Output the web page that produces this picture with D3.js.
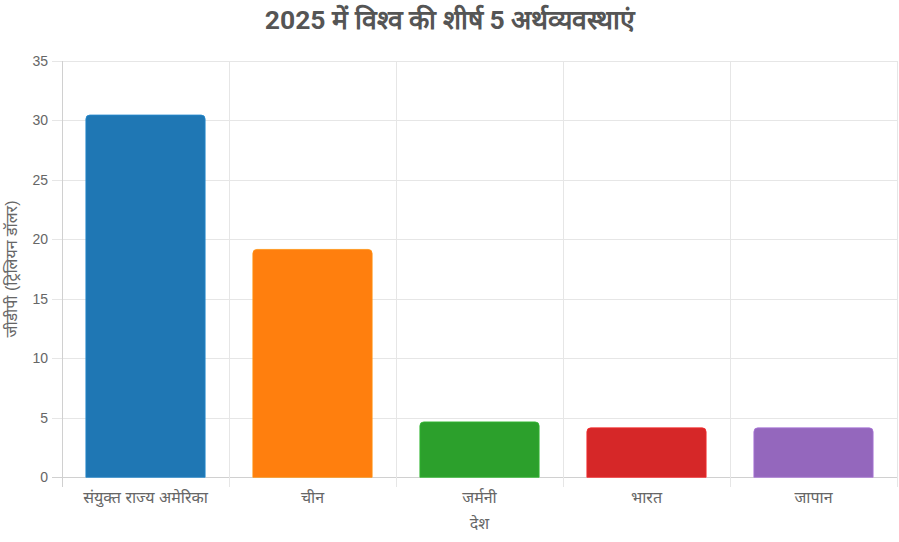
<!DOCTYPE html>
<html><head><meta charset="utf-8">
<script src="https://cdn.jsdelivr.net/npm/d3@7"></script>
<style>
body{margin:0;background:#fff;}
svg{display:block;font-family:"Liberation Sans",Arial,"Noto Sans",sans-serif;}
</style></head>
<body><svg id="c" width="899" height="542"></svg>
<script>
const categories = ["संयुक्त राज्य अमेरिका","चीन","जर्मनी","भारत","जापान"];
const gdpValues = [30.5, 19.2, 4.7, 4.2, 4.2];
const barColors = ["#1f77b4","#ff7f0e","#2ca02c","#d62728","#9467bd"];
const yTicks = [0,5,10,15,20,25,30,35];
const titleText = "2025 में विश्व की शीर्ष 5 अर्थव्यवस्थाएं";
const xTitle = "देश";
const yTitle = "जीडीपी (ट्रिलियन डॉलर)";

const svg = d3.select("#c");
const m = {l:62, r:2, t:61, b:65};
const W = 899, H = 542;
const x = d3.scaleBand().domain(categories).range([m.l, W - m.r]).paddingInner(0).paddingOuter(0);
const y = d3.scaleLinear().domain([0,35]).range([477.3, 61]);

// grid
const g = svg.append("g");
g.selectAll("line.h").data(yTicks).join("line")
  .attr("x1", m.l - 10).attr("x2", W - m.r)
  .attr("y1", d => Math.round(y(d)) + 0.5).attr("y2", d => Math.round(y(d)) + 0.5)
  .attr("stroke", d => d === 0 ? "#d0d0d0" : "#e6e6e6").attr("stroke-width", 1);
const vx = categories.map(c => x(c)).concat([W - m.r]);
g.selectAll("line.v").data(vx).join("line")
  .attr("x1", d => Math.round(d) + 0.5).attr("x2", d => Math.round(d) + 0.5)
  .attr("y1", 61).attr("y2", 487)
  .attr("stroke", (d,i) => i === 0 ? "#d0d0d0" : "#e6e6e6").attr("stroke-width", 1);

// y tick labels
svg.append("g").selectAll("text").data(yTicks).join("text")
  .attr("x", 48).attr("y", d => y(d)).attr("dy", "0.35em")
  .attr("text-anchor", "end").attr("fill", "#666").attr("font-size", 14)
  .text(d => d);

// bars
const bw = x.bandwidth() * 0.72;
const r = 4;
function barPath(x0, y0, w, h){
  const rr = Math.min(r, h/2, w/2);
  return `M${x0},${y0+h}V${y0+rr}Q${x0},${y0} ${x0+rr},${y0}H${x0+w-rr}Q${x0+w},${y0} ${x0+w},${y0+rr}V${y0+h}Z`;
}
svg.append("g").selectAll("path").data(categories).join("path")
  .attr("d", (c,i) => {
    const x0 = x(c) + (x.bandwidth() - bw)/2;
    const y0 = y(gdpValues[i]);
    return barPath(x0 + 0.5, y0 + 0.5, bw - 1, y(0) - y0 - 0.5);
  })
  .attr("fill", (c,i) => barColors[i])
  .attr("stroke", (c,i) => d3.color(barColors[i]).brighter(0.4))
  .attr("stroke-opacity", 0.8)
  .attr("stroke-width", 1);

// x labels
svg.append("g").selectAll("text").data(categories).join("text")
  .attr("x", c => x(c) + x.bandwidth()/2).attr("y", 503)
  .attr("text-anchor", "middle").attr("fill", "#666").attr("font-size", 16)
  .text(c => c);

// axis titles
svg.append("text").attr("x", (m.l + W - m.r)/2).attr("y", 529)
  .attr("text-anchor","middle").attr("fill","#666").attr("font-size",16).text(xTitle);
svg.append("text").attr("transform", "translate(17,269) rotate(-90)")
  .attr("text-anchor","middle").attr("fill","#666").attr("font-size",16).text(yTitle);

// title
svg.append("text").attr("x", 450).attr("y", 29)
  .attr("text-anchor","middle").attr("fill","#555").attr("font-size",26.5)
  .attr("font-weight","bold").style("font-family","Roboto, 'Liberation Sans', sans-serif")
  .text(titleText);
</script></body></html>
